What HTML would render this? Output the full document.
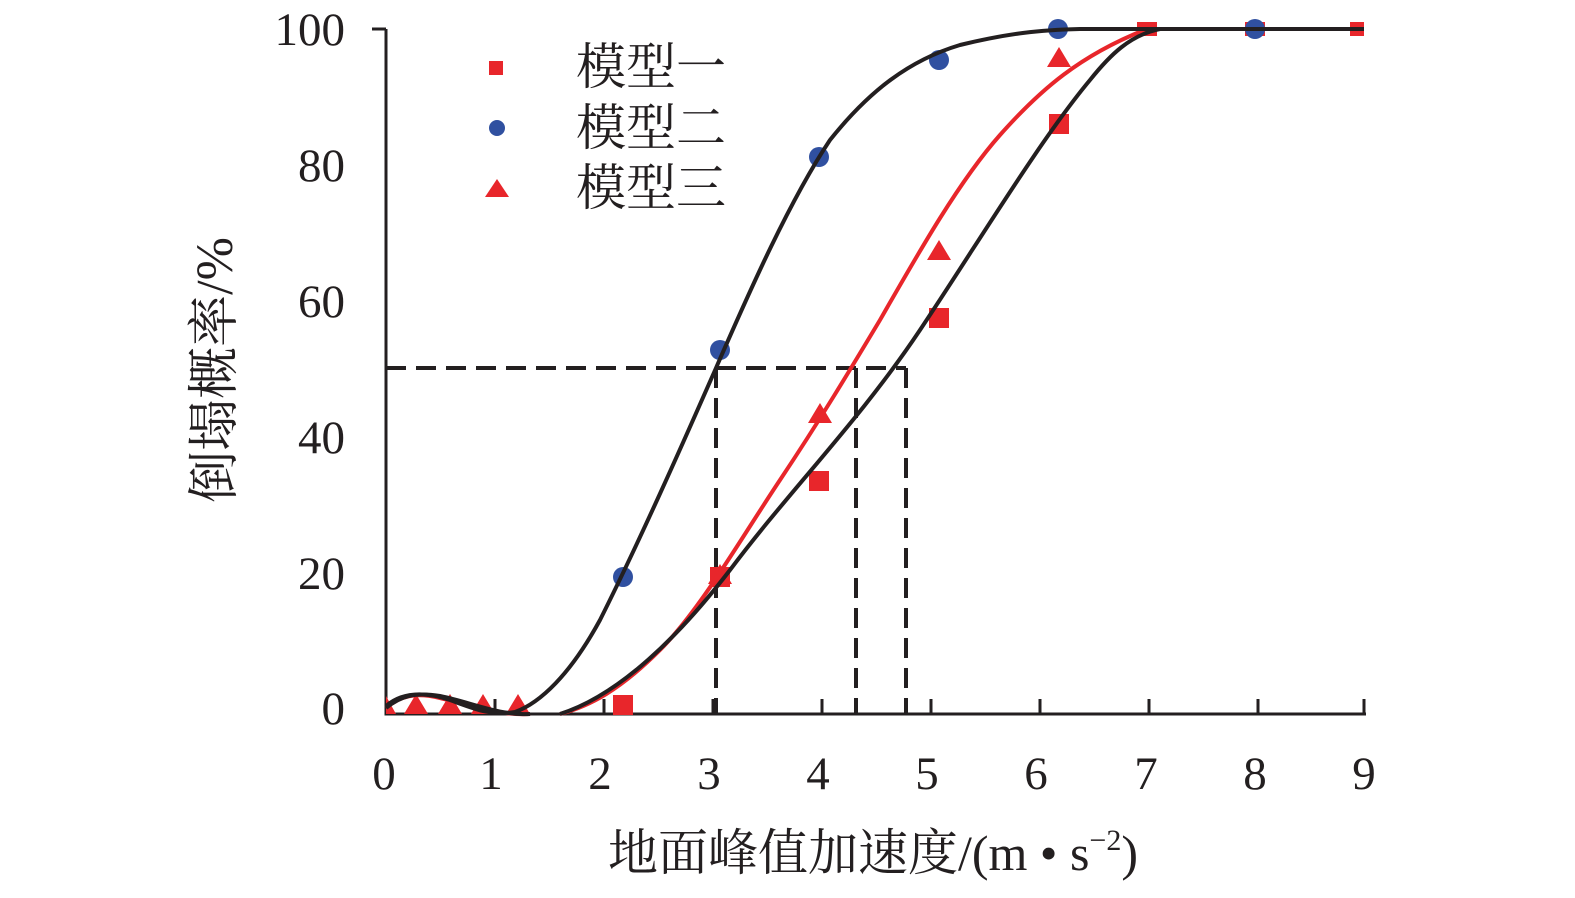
<!DOCTYPE html>
<html><head><meta charset="utf-8"><style>body{margin:0;background:#fff}svg{display:block}</style></head><body>
<svg width="1575" height="898" viewBox="0 0 1575 898" xmlns="http://www.w3.org/2000/svg">
<g font-family="Liberation Serif, serif" font-size="47" fill="#231f20">
<text x="345" y="45" text-anchor="end">100</text>
<text x="345" y="181" text-anchor="end">80</text>
<text x="345" y="317" text-anchor="end">60</text>
<text x="345" y="453" text-anchor="end">40</text>
<text x="345" y="589" text-anchor="end">20</text>
<text x="345" y="724" text-anchor="end">0</text>
<text x="384" y="789" text-anchor="middle">0</text>
<text x="491" y="789" text-anchor="middle">1</text>
<text x="600" y="789" text-anchor="middle">2</text>
<text x="709" y="789" text-anchor="middle">3</text>
<text x="818" y="789" text-anchor="middle">4</text>
<text x="927" y="789" text-anchor="middle">5</text>
<text x="1036" y="789" text-anchor="middle">6</text>
<text x="1146" y="789" text-anchor="middle">7</text>
<text x="1255" y="789" text-anchor="middle">8</text>
<text x="1364" y="789" text-anchor="middle">9</text>
</g>
<text x="873" y="870" text-anchor="middle" font-family="Liberation Serif, 'Noto Serif CJK SC', serif" font-size="50" fill="#231f20">地面峰值加速度/(m • s<tspan font-size="30" dy="-20">−2</tspan><tspan dy="20">)</tspan></text>
<text transform="translate(232,370) rotate(-90)" text-anchor="middle" font-family="Liberation Serif, 'Noto Serif CJK SC', serif" font-size="52" fill="#231f20">倒塌概率/%</text>
<g font-family="'Noto Serif CJK SC', serif" font-size="50" fill="#231f20">
<text x="576" y="84">模型一</text>
<text x="576" y="145">模型二</text>
<text x="576" y="205">模型三</text>
</g>
<rect x="489" y="61" width="14" height="14" fill="#e8262b"/>
<circle cx="497" cy="128" r="8" fill="#3050a0"/>
<polygon points="485,197 497,179 509,197" fill="#e8262b"/>
<g stroke="#231f20" stroke-width="3" fill="none">
<path d="M386,29 V714 H1366"/>
<path d="M372,29 H386"/>
<path d="M495,714 v-15 M604,714 v-15 M713,714 v-15 M822,714 v-15 M931,714 v-15 M1040,714 v-15 M1149,714 v-15 M1258,714 v-15 M1364,714 v-15"/>
</g>
<g stroke="#231f20" stroke-width="4" stroke-dasharray="20,10" fill="none">
<path d="M386,368 H906 M716,368 V714 M856,368 V714 M906,368 V714"/>
</g>
<g fill="#e8262b">
<rect x="613" y="695" width="20" height="20"/><rect x="710" y="567" width="20" height="20"/><rect x="809" y="471" width="20" height="20"/><rect x="929" y="308" width="20" height="20"/><rect x="1049" y="114" width="20" height="20"/><rect x="1137" y="22" width="20" height="14"/><rect x="1245" y="22" width="20" height="14"/><rect x="1350" y="22" width="14" height="14"/>
<polygon points="708,584 720,564 732,584"/><polygon points="808,423 820,403 832,423"/><polygon points="927,260 939,240 951,260"/><polygon points="1047,67 1059,47 1071,67"/>
<polygon points="404,714 416,694 428,714"/><polygon points="438,714 450,694 462,714"/><polygon points="471,714 483,694 495,714"/><polygon points="506,714 518,694 530,714"/><polygon points="386,714 386,696 396,714"/>
</g>
<g fill="#3050a0">
<circle cx="623" cy="577" r="10"/><circle cx="720" cy="350" r="10"/><circle cx="819" cy="157" r="10"/><circle cx="939" cy="60" r="10"/><circle cx="1058" cy="29" r="10"/><circle cx="1255" cy="29" r="10"/>
</g>
<g fill="none" stroke-width="4">
<path stroke="#e8262b" d="M386,708 C400,696 415,692 440,698 C470,705 500,716 530,714 M560,714 C590,706 620,690 660,650 C700,610 740,540 780,480 C820,420 850,370 880,320 C920,250 960,180 1000,135 C1040,90 1080,55 1147,29 L1364,29"/>
<path stroke="#231f20" d="M386,708 C400,696 415,692 440,696 C470,702 500,716 530,714 M560,714 C620,695 680,635 730,570 C790,490 860,420 920,330 C980,240 1040,140 1090,80 C1110,55 1130,35 1160,29 L1364,29"/>
<path stroke="#231f20" d="M386,706 C400,694 420,690 450,700 C475,709 490,716 515,712 C540,703 570,675 600,620 C640,540 680,450 716,368 C750,290 790,200 830,140 C870,90 910,60 960,45 C1010,33 1040,30 1080,29 L1364,29"/>
</g>
</svg>
</body></html>
